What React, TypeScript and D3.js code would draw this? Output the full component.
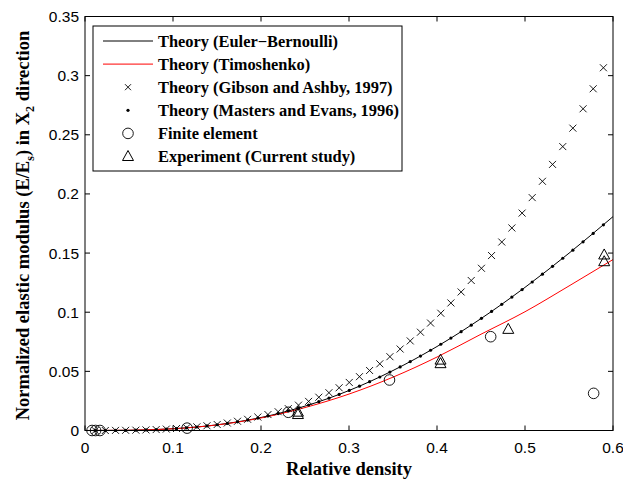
import React from 'react';
import * as d3 from 'd3';

// sampled densities for the two marker-only theory series
const densityPts = [
  0.0116, 0.0231, 0.0347, 0.0462, 0.0578, 0.0693, 0.0809, 0.0924, 0.104, 0.1155,
  0.1271, 0.1386, 0.1502, 0.1617, 0.1733, 0.1848, 0.1964, 0.2079, 0.2195, 0.231,
  0.2426, 0.2541, 0.2657, 0.2772, 0.2888, 0.3003, 0.3119, 0.3234, 0.335, 0.3465,
  0.3581, 0.3696, 0.3812, 0.3927, 0.4043, 0.4158, 0.4274, 0.4389, 0.4505, 0.462,
  0.4736, 0.4851, 0.4967, 0.5082, 0.5198, 0.5313, 0.5429, 0.5544, 0.566, 0.5775, 0.5891,
];
const gibsonAshby = [
  0, 0, 0.0001, 0.00015, 0.00029, 0.0005, 0.00079, 0.00118, 0.00169, 0.00231,
  0.00308, 0.00399, 0.00508, 0.00634, 0.00781, 0.00947, 0.01136, 0.01348, 0.01586, 0.01849,
  0.02142, 0.02461, 0.02814, 0.03195, 0.03613, 0.04062, 0.04551, 0.05073, 0.05639, 0.0624,
  0.06888, 0.07573, 0.08309, 0.09084, 0.09913, 0.10783, 0.11711, 0.12682, 0.13714, 0.14792,
  0.15934, 0.17123, 0.18381, 0.19688, 0.21067, 0.22497, 0.24002, 0.2556, 0.27198, 0.2889, 0.30666,
];
const mastersEvans = [
  0, 0, 0.0001, 0.00015, 0.00029, 0.00049, 0.00078, 0.00116, 0.00165, 0.00225,
  0.00297, 0.00383, 0.00484, 0.006, 0.00733, 0.00881, 0.01047, 0.01231, 0.01434, 0.01655,
  0.01896, 0.02155, 0.02436, 0.02733, 0.03053, 0.0339, 0.03749, 0.04124, 0.04523, 0.04936,
  0.05372, 0.05823, 0.06296, 0.06783, 0.07291, 0.07812, 0.08354, 0.08907, 0.09481, 0.10065,
  0.10669, 0.11282, 0.11914, 0.12555, 0.13213, 0.13878, 0.14561, 0.15249, 0.15954, 0.16664, 0.17389,
];

// continuous theory curves
const lineDensity = [0, 0.05, 0.1, 0.15, 0.2, 0.25, 0.3, 0.35, 0.4, 0.45, 0.5, 0.55, 0.6];
const eulerBernoulli = [0, 0.0002, 0.0015, 0.0048, 0.011, 0.0206, 0.0338, 0.0507, 0.071, 0.0946, 0.121, 0.1499, 0.1808];
const timoshenko = [0, 0.0002, 0.00145, 0.0047, 0.0106, 0.0194, 0.0308, 0.0451, 0.0621, 0.0814, 0.1004, 0.1222, 0.1445];

const feDensity = [0.008, 0.012, 0.017, 0.116, 0.231, 0.346, 0.461, 0.578];
const feModulus = [0, 0, 0, 0.002, 0.0154, 0.0427, 0.0793, 0.0314];

const expDensity = [0.242, 0.242, 0.404, 0.404, 0.481, 0.59, 0.59];
const expModulus = [0.0135, 0.0155, 0.0565, 0.0595, 0.0855, 0.1427, 0.1484];

const xTicks = [0, 0.1, 0.2, 0.3, 0.4, 0.5, 0.6];
const yTicks = [0, 0.05, 0.1, 0.15, 0.2, 0.25, 0.3, 0.35];
const legendLabels = [
  'Theory (Euler\u2212Bernoulli)',
  'Theory (Timoshenko)',
  'Theory (Gibson and Ashby, 1997)',
  'Theory (Masters and Evans, 1996)',
  'Finite element',
  'Experiment (Current study)',
];

const W = 623;
const H = 484;
const left = 85, right = 613, top = 16.5, bottom = 430.5;
const serif = '"Liberation Serif", "Times New Roman", serif';
const sans = '"Liberation Sans", Arial, sans-serif';

const Cross = ({ x, y, s = 3.5 }: { x: number; y: number; s?: number }) => (
  <path d={`M${x - s},${y - s}L${x + s},${y + s}M${x - s},${y + s}L${x + s},${y - s}`} stroke="#000" strokeWidth={0.9} fill="none" />
);
const Tri = ({ x, y }: { x: number; y: number }) => (
  <path d={`M${x},${y - 6}L${x + 5.5},${y + 4}L${x - 5.5},${y + 4}Z`} stroke="#000" strokeWidth={1} fill="none" />
);

export default function App() {
  const x = d3.scaleLinear().domain([0, 0.6]).range([left, right]);
  const y = d3.scaleLinear().domain([0, 0.35]).range([bottom, top]);

  const line = d3.line<number>()
    .x((_, i) => x(lineDensity[i]))
    .curve(d3.curveMonotoneX);
  const ebPath = line.y(d => y(d))(eulerBernoulli) || '';
  const tmPath = line.y(d => y(d))(timoshenko) || '';

  const legX = 93, legY = 26, legW = 309, legH = 145;
  const rowY = (i: number) => 41 + i * 23.1;

  return (
    <div style={{ position: 'fixed', left: 0, top: 0 }}>
      <svg width={W} height={H} viewBox={`0 0 ${W} ${H}`} style={{ display: 'block', background: '#fff' }}>
        <rect width={W} height={H} fill="#fff" />
        <defs>
          <clipPath id="plot">
            <rect x={left} y={top} width={right - left} height={bottom - top} />
          </clipPath>
        </defs>

        {/* curves */}
        <g clipPath="url(#plot)">
          <path d={ebPath} fill="none" stroke="#000" strokeWidth={1} />
          <path d={tmPath} fill="none" stroke="#ff0000" strokeWidth={1} />
        </g>

        {/* Gibson & Ashby crosses */}
        {densityPts.map((d, i) => <Cross key={'c' + i} x={x(d)} y={y(gibsonAshby[i])} />)}
        {/* Masters & Evans dots */}
        {densityPts.map((d, i) => <circle key={'d' + i} cx={x(d)} cy={y(mastersEvans[i])} r={1.6} fill="#000" />)}
        {/* FE circles */}
        {feDensity.map((d, i) => <circle key={'f' + i} cx={x(d)} cy={y(feModulus[i])} r={5.3} fill="none" stroke="#000" strokeWidth={0.9} />)}
        {/* experiment triangles */}
        {expDensity.map((d, i) => <Tri key={'t' + i} x={x(d)} y={y(expModulus[i])} />)}

        {/* frame */}
        <rect x={left} y={top} width={right - left} height={bottom - top} fill="none" stroke="#000" strokeWidth={1} />
        {xTicks.map(t => (
          <g key={'xt' + t}>
            <line x1={x(t)} x2={x(t)} y1={bottom} y2={bottom - 5} stroke="#000" />
            <line x1={x(t)} x2={x(t)} y1={top} y2={top + 5} stroke="#000" />
            <text x={x(t)} y={bottom + 22} textAnchor="middle" fontFamily={sans} fontSize={15.5}>{d3.format('')(t)}</text>
          </g>
        ))}
        {yTicks.map(t => (
          <g key={'yt' + t}>
            <line x1={left} x2={left + 5} y1={y(t)} y2={y(t)} stroke="#000" />
            <line x1={right} x2={right - 5} y1={y(t)} y2={y(t)} stroke="#000" />
            <text x={left - 6} y={y(t) + 5.5} textAnchor="end" fontFamily={sans} fontSize={15.5}>{d3.format('')(t)}</text>
          </g>
        ))}

        {/* axis titles */}
        <text x={(left + right) / 2} y={475} textAnchor="middle" fontFamily={serif} fontWeight="bold" fontSize={18.5}>Relative density</text>
        <text transform={`translate(29,${(top + bottom) / 2 + 2}) rotate(-90)`} textAnchor="middle" fontFamily={serif} fontWeight="bold" fontSize={18.5}>
          Normalized elastic modulus (E/E<tspan fontSize={12} dy={5}>s</tspan><tspan dy={-5}>) in X</tspan><tspan fontSize={12} dy={5}>2</tspan><tspan dy={-5}> direction</tspan>
        </text>

        {/* legend */}
        <rect x={legX} y={legY} width={legW} height={legH} fill="#fff" stroke="#000" strokeWidth={1} />
        <line x1={103} x2={153} y1={rowY(0)} y2={rowY(0)} stroke="#000" />
        <line x1={103} x2={153} y1={rowY(1)} y2={rowY(1)} stroke="#ff0000" />
        <Cross x={128} y={rowY(2)} s={3} />
        <circle cx={128} cy={rowY(3)} r={1.6} fill="#000" />
        <circle cx={128} cy={rowY(4)} r={5.3} fill="none" stroke="#000" strokeWidth={0.9} />
        <Tri x={128} y={rowY(5)} />
        {legendLabels.map((l, i) => (
          <text key={l} x={158} y={rowY(i) + 5.5} fontFamily={serif} fontWeight="bold" fontSize={16.4}>{l}</text>
        ))}
      </svg>
    </div>
  );
}
